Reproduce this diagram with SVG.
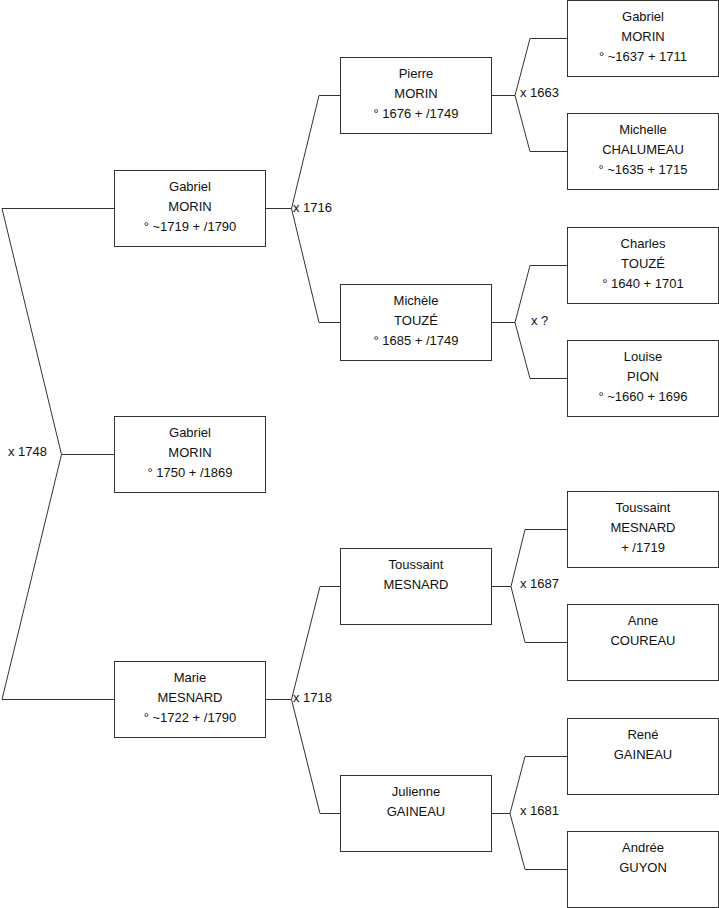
<svg xmlns="http://www.w3.org/2000/svg" width="719" height="908" viewBox="0 0 719 908">
<style>
.box{fill:#fff;stroke:#333;stroke-width:1}
.ln{fill:none;stroke:#333;stroke-width:1}
text{font-family:"Liberation Sans",Arial,sans-serif;font-size:13px;fill:#111}
.c{text-anchor:middle}
</style>
<rect width="719" height="908" fill="#fff"/>
<g id="connectors">
<path class="ln" d="M114.5,208.5 H2 L61.5,454.5 L2,699.5 H114.5 M61.5,454.5 H114.5"/>
<path class="ln" d="M265.5,208.5 H291.5 M340.5,95.5 H319 L291.5,208.5 L319,322.5 H340.5"/>
<path class="ln" d="M265.5,699.5 H291.5 M340.5,586.5 H320 L291.5,699.5 L320,813.5 H340.5"/>
<path class="ln" d="M491.5,95.5 H515 M567.5,38.5 H530 L515,95.5 L530,151.5 H567.5"/>
<path class="ln" d="M491.5,322.5 H515 M567.5,265.5 H530 L515,322.5 L530,378.5 H567.5"/>
<path class="ln" d="M491.5,586.5 H511 M567.5,529.5 H525 L511,586.5 L525,642.5 H567.5"/>
<path class="ln" d="M491.5,813.5 H510 M567.5,756.5 H525 L510,813.5 L525,869.5 H567.5"/>
<text x="8" y="456">x 1748</text>
<text x="293" y="212">x 1716</text>
<text x="293" y="702">x 1718</text>
<text x="520" y="97">x 1663</text>
<text x="531" y="325">x ?</text>
<text x="520" y="588">x 1687</text>
<text x="520" y="815">x 1681</text>
</g>
<g id="n_gabriel_1719">
<rect class="box" x="114.5" y="170.5" width="151" height="76"/>
<text class="c" x="190" y="191">Gabriel</text><text class="c" x="190" y="211">MORIN</text><text class="c" x="190" y="231">° ~1719 + /1790</text>
</g>
<g id="n_gabriel_1750">
<rect class="box" x="114.5" y="416.5" width="151" height="76"/>
<text class="c" x="190" y="437">Gabriel</text><text class="c" x="190" y="457">MORIN</text><text class="c" x="190" y="477">° 1750 + /1869</text>
</g>
<g id="n_marie">
<rect class="box" x="114.5" y="661.5" width="151" height="76"/>
<text class="c" x="190" y="682">Marie</text><text class="c" x="190" y="702">MESNARD</text><text class="c" x="190" y="722">° ~1722 + /1790</text>
</g>
<g id="n_pierre">
<rect class="box" x="340.5" y="57.5" width="151" height="76"/>
<text class="c" x="416" y="78">Pierre</text><text class="c" x="416" y="98">MORIN</text><text class="c" x="416" y="118">° 1676 + /1749</text>
</g>
<g id="n_michele">
<rect class="box" x="340.5" y="284.5" width="151" height="76"/>
<text class="c" x="416" y="305">Michèle</text><text class="c" x="416" y="325">TOUZÉ</text><text class="c" x="416" y="345">° 1685 + /1749</text>
</g>
<g id="n_toussaint2">
<rect class="box" x="340.5" y="548.5" width="151" height="76"/>
<text class="c" x="416" y="569">Toussaint</text><text class="c" x="416" y="589">MESNARD</text>
</g>
<g id="n_julienne">
<rect class="box" x="340.5" y="775.5" width="151" height="76"/>
<text class="c" x="416" y="796">Julienne</text><text class="c" x="416" y="816">GAINEAU</text>
</g>
<g id="n_gabriel_1637">
<rect class="box" x="567.5" y="0.5" width="151" height="76"/>
<text class="c" x="643" y="21">Gabriel</text><text class="c" x="643" y="41">MORIN</text><text class="c" x="643" y="61">° ~1637 + 1711</text>
</g>
<g id="n_michelle">
<rect class="box" x="567.5" y="113.5" width="151" height="76"/>
<text class="c" x="643" y="134">Michelle</text><text class="c" x="643" y="154">CHALUMEAU</text><text class="c" x="643" y="174">° ~1635 + 1715</text>
</g>
<g id="n_charles">
<rect class="box" x="567.5" y="227.5" width="151" height="76"/>
<text class="c" x="643" y="248">Charles</text><text class="c" x="643" y="268">TOUZÉ</text><text class="c" x="643" y="288">° 1640 + 1701</text>
</g>
<g id="n_louise">
<rect class="box" x="567.5" y="340.5" width="151" height="76"/>
<text class="c" x="643" y="361">Louise</text><text class="c" x="643" y="381">PION</text><text class="c" x="643" y="401">° ~1660 + 1696</text>
</g>
<g id="n_toussaint3">
<rect class="box" x="567.5" y="491.5" width="151" height="76"/>
<text class="c" x="643" y="512">Toussaint</text><text class="c" x="643" y="532">MESNARD</text><text class="c" x="643" y="552">+ /1719</text>
</g>
<g id="n_anne">
<rect class="box" x="567.5" y="604.5" width="151" height="76"/>
<text class="c" x="643" y="625">Anne</text><text class="c" x="643" y="645">COUREAU</text>
</g>
<g id="n_rene">
<rect class="box" x="567.5" y="718.5" width="151" height="76"/>
<text class="c" x="643" y="739">René</text><text class="c" x="643" y="759">GAINEAU</text>
</g>
<g id="n_andree">
<rect class="box" x="567.5" y="831.5" width="151" height="76"/>
<text class="c" x="643" y="852">Andrée</text><text class="c" x="643" y="872">GUYON</text>
</g>
</svg>
